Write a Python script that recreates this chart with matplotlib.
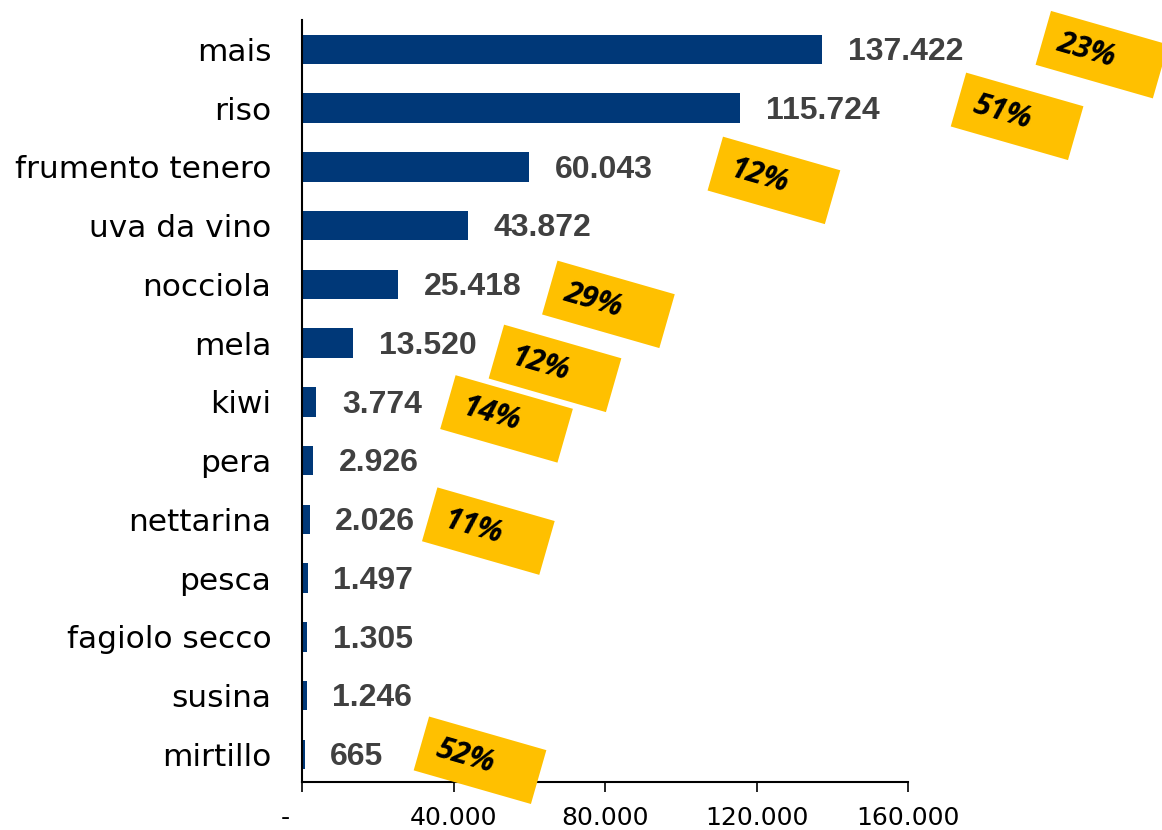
import numpy as np
import matplotlib.pyplot as plt
from matplotlib.patches import Rectangle
import matplotlib.transforms as mtransforms

# dati
colture = ["mais", "riso", "frumento tenero", "uva da vino", "nocciola", "mela",
           "kiwi", "pera", "nettarina", "pesca", "fagiolo secco", "susina", "mirtillo"]
superfici = [137422, 115724, 60043, 43872, 25418, 13520, 3774, 2926, 2026, 1497, 1305, 1246, 665]

# quote percentuali (riquadri gialli) : coltura -> testo
quote_colture = ["mais", "riso", "frumento tenero", "nocciola", "mela", "kiwi", "nettarina", "mirtillo"]
quote = ["23%", "51%", "12%", "29%", "12%", "14%", "11%", "52%"]

xticks = [0, 40000, 80000, 120000, 160000]
xticklabels = ["-    ", "40.000", "80.000", "120.000", "160.000"]

# posizione dei riquadri (x in dati, y in indice di categoria)
box_pos = [(211200, 0.09), (188800, 1.14), (124600, 2.23), (80900, 4.34),
           (66800, 5.43), (54000, 6.29), (49200, 8.20), (47000, 12.10)]

BLU = "#003878"
GIALLO = "#FFC000"
ANGOLO = -16

fig = plt.figure(figsize=(11.62, 8.30), dpi=100)
ax = fig.add_axes([302/1162, 1 - 782/830, 606/1162, 762/830])

y = np.arange(len(colture))
ax.barh(y, superfici, height=0.5, color=BLU)

for yi, v in zip(y, superfici):
    ax.annotate(f"{v:,}".replace(",", "."), (v, yi), xytext=(18.5, -2),
                textcoords="offset points", ha="left", va="center",
                fontsize=23, fontweight="bold", color="#404040",
                family="Liberation Sans")

ax.set_xlim(0, 160000)
ax.set_ylim(12.47, -0.5)
ax.set_yticks(y)
ax.set_yticklabels(colture, fontsize=22.5, family="DejaVu Sans")
ax.tick_params(axis="y", length=0, pad=22)
ax.set_xticks(xticks)
ax.set_xticklabels(xticklabels, fontsize=18, family="DejaVu Sans")
ax.tick_params(axis="x", length=7, width=1.2, pad=10, direction="out")

for s in ["top", "right"]:
    ax.spines[s].set_visible(False)
for s in ["left", "bottom"]:
    ax.spines[s].set_linewidth(1.5)

# riquadri gialli ruotati con le quote
for txt, (bx, by) in zip(quote, box_pos):
    tr = mtransforms.Affine2D().rotate_deg(ANGOLO) + mtransforms.ScaledTranslation(bx, by, ax.transData)
    ax.add_patch(Rectangle((-61, -28), 122, 56, transform=tr, facecolor=GIALLO,
                           edgecolor="none", clip_on=False, zorder=3))
    ax.annotate(txt, (bx, by), xytext=(-15, 4), textcoords="offset pixels",
                rotation=ANGOLO, rotation_mode="anchor", ha="center", va="center",
                fontsize=22, fontweight="bold", fontstyle="italic", color="black",
                family=["Open Sans", "Liberation Sans"], zorder=4, annotation_clip=False)

fig.savefig("out.png", dpi=100)
